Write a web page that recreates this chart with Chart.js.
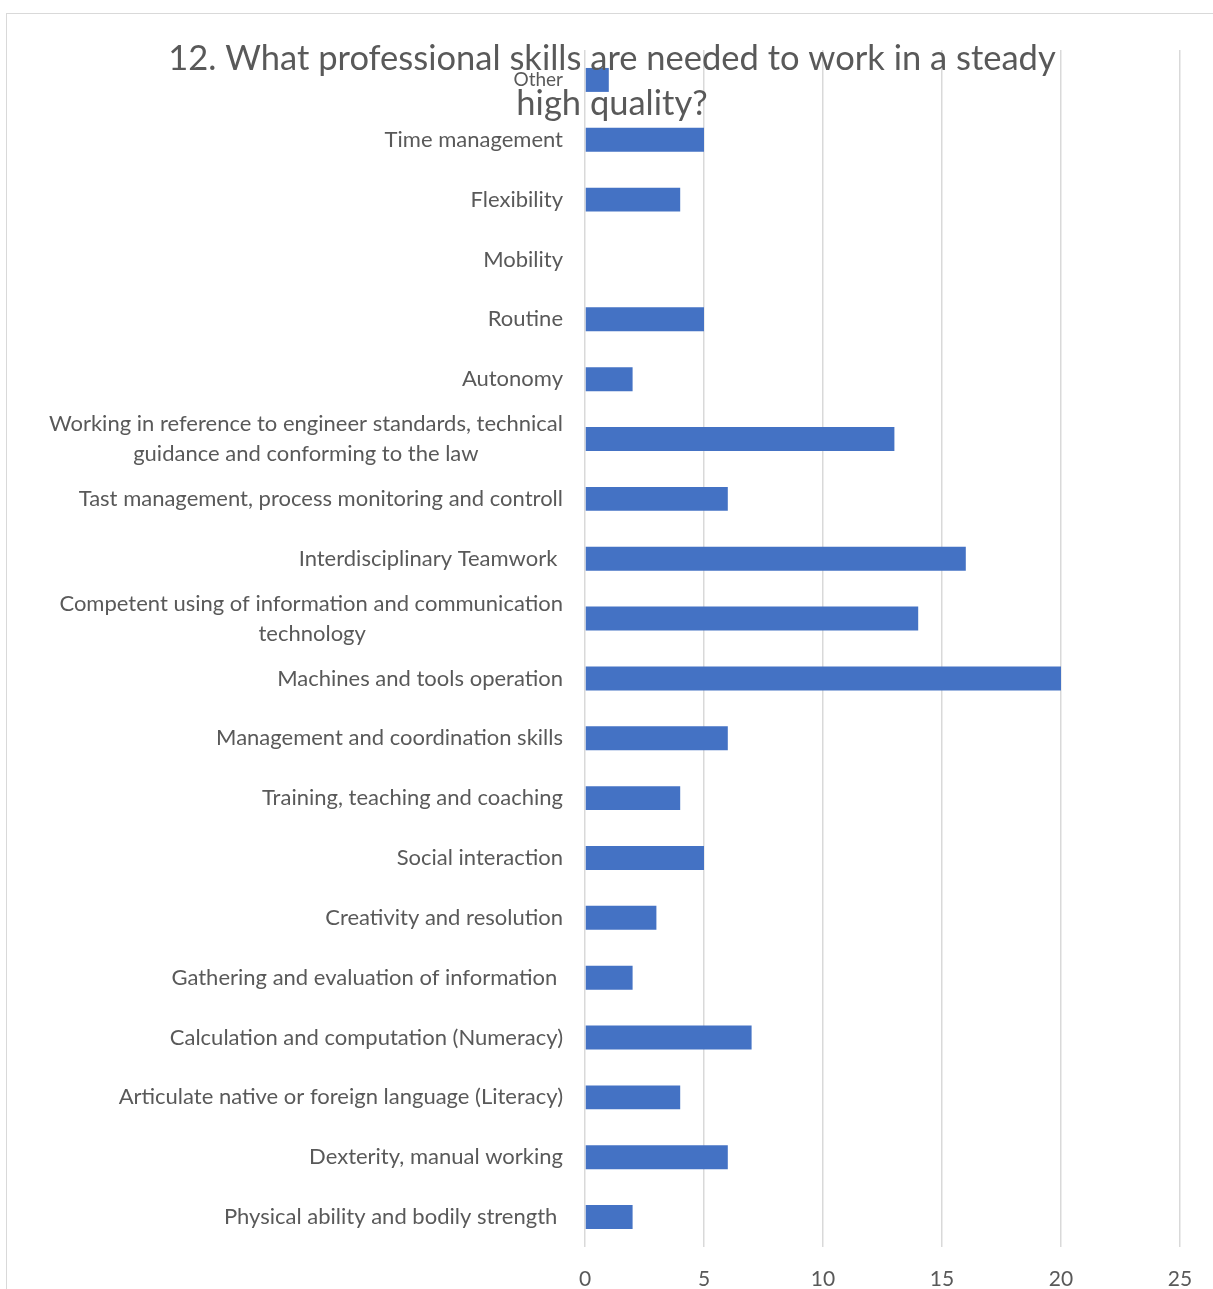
<!DOCTYPE html>
<html>
<head>
<meta charset="utf-8">
<script src="https://cdn.jsdelivr.net/npm/chart.js@4.4.0/dist/chart.umd.min.js"></script>
<style>
  html, body { margin:0; padding:0; background:#fff; }
  #frame { position:absolute; left:6px; top:13px; width:1240px; height:1320px; border:1px solid #d9d9d9; }
  #wrap { position:absolute; left:0; top:0; width:1213px; height:1289px; }
</style>
</head>
<body>
<div id="frame"></div>
<div id="wrap"><canvas id="chart" width="1213" height="1289"></canvas></div>
<script>
// chart data
const titleLines = ['12. What professional skills are needed to work in a steady', 'high quality?'];
const skills = [
  'Other',
  'Time management',
  'Flexibility',
  'Mobility',
  'Routine',
  'Autonomy',
  ['Working in reference to engineer standards, technical', 'guidance and conforming to the law'],
  'Tast management, process monitoring and controll',
  'Interdisciplinary Teamwork ',
  ['Competent using of information and communication', 'technology'],
  'Machines and tools operation',
  'Management and coordination skills',
  'Training, teaching and coaching',
  'Social interaction',
  'Creativity and resolution',
  'Gathering and evaluation of information ',
  'Calculation and computation (Numeracy)',
  'Articulate native or foreign language (Literacy)',
  'Dexterity, manual working',
  'Physical ability and bodily strength '
];
const counts = [1, 5, 4, 0, 5, 2, 13, 6, 16, 14, 20, 6, 4, 5, 3, 2, 7, 4, 6, 2];
const xTicks = [0, 5, 10, 15, 20, 25];

const FONT = 'Lato, "Open Sans", sans-serif';
const GREY = '#595959';
const LABEL_SIZE = 22;

// Excel centres wrapped labels; chart.js right-aligns every line,
// so pad the shorter lines with trailing spaces
const measure = document.createElement('canvas').getContext('2d');
measure.font = LABEL_SIZE + 'px ' + FONT;
function centreLines(lbl){
  if(!Array.isArray(lbl)) return lbl;
  const w = lbl.map(l => measure.measureText(l).width);
  const max = Math.max(...w);
  const sp = measure.measureText(' ').width;
  return lbl.map((l, i) => l + ' '.repeat(Math.round((max - w[i]) / 2 / sp)));
}
const labels = skills.map(centreLines);

// title overlaps the plot in the original, so draw it on top by hand
const overlayTitle = {
  id: 'overlayTitle',
  afterDraw(chart){
    const ctx = chart.ctx;
    ctx.save();
    ctx.fillStyle = GREY;
    ctx.font = '34.5px ' + FONT;
    ctx.textAlign = 'center';
    ctx.textBaseline = 'alphabetic';
    ctx.fillText(titleLines[0], 612, 70, 888);
    ctx.fillText(titleLines[1], 612, 115);
    ctx.restore();
  }
};

new Chart(document.getElementById('chart'), {
  type: 'bar',
  data: {
    labels: labels,
    datasets: [{
      data: counts,
      backgroundColor: '#4472c4',
      barPercentage: 0.4,
      categoryPercentage: 1.0
    }]
  },
  options: {
    indexAxis: 'y',
    responsive: false,
    animation: false,
    layout: { padding: { top: 50, right: 33, left: 0, bottom: 0 } },
    plugins: { legend: { display: false }, tooltip: { enabled: false }, title: { display: false } },
    scales: {
      x: {
        min: 0, max: 25,
        afterBuildTicks: s => { s.ticks = xTicks.map(v => ({ value: v })); },
        afterFit: s => { s.height = 42; },
        grid: { color: '#d9d9d9', lineWidth: 1.5, drawTicks: false },
        border: { display: false },
        ticks: { color: GREY, font: { family: FONT, size: 21 }, padding: 20 }
      },
      y: {
        afterFit: s => { s.width = 585; },
        grid: { display: false, drawTicks: false },
        border: { display: false },
        ticks: {
          color: GREY,
          padding: 22,
          autoSkip: false,
          font: c => ({ family: FONT, size: c.index === 0 ? 19 : LABEL_SIZE, lineHeight: 1.36 })
        }
      }
    }
  },
  plugins: [overlayTitle]
});
</script>
</body>
</html>
